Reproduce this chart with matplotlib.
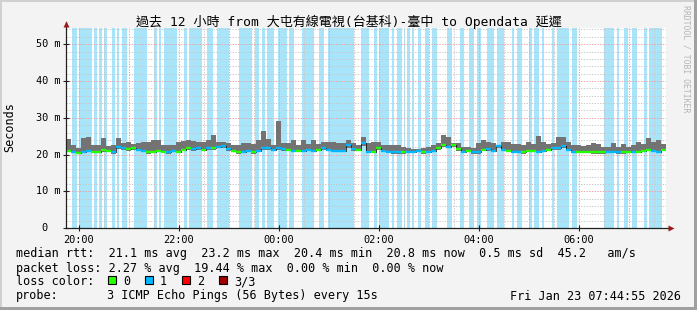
import numpy as np
import matplotlib
matplotlib.use("Agg")
from matplotlib import pyplot as plt
from matplotlib.patches import Rectangle
from matplotlib.transforms import blended_transform_factory

# Chart data
title = "過去 12 小時 from 大屯有線電視(台基科)-臺中 to Opendata 延遲"
start_hour = 19 + 44 / 60 + 55 / 3600   # graph starts 19:44:55
span_min = 720
step_min = 6

# median rtt per 6 minute step (ms)
median_ms = [21.1, 20.8, 20.4, 20.8, 21.0, 20.8, 20.8, 21.3, 21.0, 20.6,
             22.2, 21.7, 21.5, 21.7, 21.3, 21.1, 20.6, 20.8, 21.1, 20.8,
             20.6, 21.0, 20.8, 21.3, 21.7, 21.5, 21.7, 21.3, 21.7, 21.7,
             22.2, 22.4, 21.5, 21.1, 20.6, 20.8, 21.1, 20.6, 21.1, 21.7,
             21.7, 21.3, 21.7, 21.5, 21.3, 21.1, 21.0, 21.1, 21.3, 21.1,
             21.3, 21.7, 21.3, 21.0, 21.1, 21.1, 22.6, 21.5, 21.3, 23.2,
             20.8, 20.8, 21.7, 21.1, 20.8, 20.6, 20.6, 20.6, 20.8, 20.8,
             21.1, 20.6, 20.8, 21.1, 21.7, 22.6, 22.2, 22.6, 21.5, 20.8,
             21.1, 20.6, 20.6, 21.3, 21.5, 21.1, 22.4, 21.3, 21.1, 20.8,
             20.8, 20.6, 21.1, 21.1, 20.8, 21.1, 21.3, 21.7, 21.7, 22.4,
             21.3, 20.8, 20.8, 20.8, 20.8, 20.6, 20.6, 20.6, 20.8, 20.8,
             20.6, 20.6, 20.8, 20.8, 20.8, 21.1, 21.3, 21.1, 20.8, 21.3]

# smoke (min / max ping) per step (ms)
smoke_lo_ms = [20.6, 20.4, 20.1, 20.5, 20.6, 20.4, 20.5, 20.8, 20.6, 20.3,
               21.5, 21.2, 21.0, 21.2, 20.9, 20.7, 20.3, 20.5, 20.7, 20.4,
               20.3, 20.6, 20.4, 20.9, 21.2, 21.0, 21.3, 20.9, 21.2, 21.3,
               21.7, 21.9, 21.1, 20.7, 20.3, 20.5, 20.7, 20.3, 20.7, 21.2,
               21.3, 20.9, 21.3, 21.1, 20.9, 20.7, 20.6, 20.7, 20.9, 20.7,
               20.9, 21.3, 20.9, 20.6, 20.7, 20.7, 21.9, 21.1, 20.9, 22.3,
               20.5, 20.5, 21.3, 20.7, 20.5, 20.3, 20.3, 20.3, 20.5, 20.4,
               20.7, 20.3, 20.5, 20.7, 21.3, 22.0, 21.7, 22.0, 21.1, 20.5,
               20.7, 20.3, 20.3, 20.9, 21.1, 20.7, 21.8, 20.9, 20.7, 20.5,
               20.5, 20.3, 20.7, 20.7, 20.5, 20.7, 20.9, 21.3, 21.2, 21.8,
               20.9, 20.5, 20.5, 20.5, 20.5, 20.3, 20.3, 20.3, 20.5, 20.5,
               20.3, 20.3, 20.5, 20.5, 20.5, 20.7, 20.9, 20.7, 20.5, 20.9]
smoke_hi_ms = [24.2, 22.6, 21.7, 24.5, 24.9, 22.6, 22.6, 24.5, 22.4, 22.6,
               24.5, 23.1, 23.5, 22.9, 23.1, 23.3, 23.5, 24.0, 24.0, 22.6,
               22.6, 22.6, 23.5, 23.8, 24.0, 23.8, 23.3, 23.5, 24.0, 25.4,
               23.5, 23.5, 23.1, 22.6, 22.6, 23.1, 23.1, 22.9, 24.0, 26.3,
               24.2, 22.6, 29.2, 23.1, 23.1, 24.0, 22.6, 24.0, 22.9, 24.0,
               22.9, 23.5, 23.5, 23.5, 23.1, 23.1, 24.0, 23.1, 22.6, 24.9,
               23.1, 23.5, 23.3, 22.6, 22.6, 22.6, 22.6, 22.0, 21.7, 21.5,
               21.5, 21.7, 22.0, 22.6, 23.1, 25.4, 24.9, 23.1, 23.1, 22.2,
               22.2, 21.7, 23.1, 24.1, 23.5, 23.1, 22.6, 23.5, 23.5, 22.9,
               22.9, 22.6, 23.5, 22.9, 25.1, 23.3, 22.9, 23.1, 24.8, 24.7,
               23.3, 22.6, 22.6, 22.4, 22.6, 23.1, 22.9, 22.2, 22.0, 23.1,
               22.2, 22.9, 22.2, 22.6, 23.3, 22.9, 24.5, 23.5, 24.0, 22.9]

# periods with 1/3 packet loss, minutes after graph start
loss_start_min = [7.2, 16, 33.6, 39.6, 45.6, 55.2, 61.2, 67.2, 81.2, 105.2,
                  111.2, 117.2, 141.2, 147.2, 169.2, 181.2, 207.2, 226.4, 235.2, 241.2,
                  254, 267.2, 283.2, 303.2, 314.4, 354.4, 369.2, 375.2, 391.2, 396.8,
                  405.2, 409.2, 415.2, 422.4, 431.2, 439.2, 457.6, 472.8, 483.2, 493.2,
                  505.2, 517.2, 535.2, 541.2, 555.2, 561.6, 571.2, 583.2, 589.2, 607.2,
                  645.2, 661.2, 669.2, 679.2, 693.2, 700]
loss_end_min = [13.2, 31.2, 37.2, 43.2, 49.2, 58.4, 64, 73.2, 97.2, 109.2,
                114.4, 133.2, 145.2, 163.2, 176.4, 195.6, 223.2, 231.2, 238.4, 250,
                265.2, 273.2, 298, 309.2, 345.2, 363.2, 373.2, 387.2, 393.6, 403.2,
                406.8, 413.2, 417.6, 425.6, 435.2, 445.2, 463.2, 477.6, 489.2, 498,
                514, 525.2, 538, 547.2, 559.2, 568, 573.6, 586, 604, 613.2,
                657.2, 663.2, 674, 685.2, 697.2, 715.2]

tick_hours = [20, 22, 24, 26, 28, 30]
tick_labels = ["20:00", "22:00", "00:00", "02:00", "04:00", "06:00"]
y_ticks = [0, 10, 20, 30, 40, 50]
y_max = 54.3

loss_colors = ["#26ff00", "#00b8ff", "#ff0000", "#a10000"]
loss_names = ["0", "1", "2", "3/3"]

rtt_line = "median rtt:  21.1 ms avg  23.2 ms max  20.4 ms min  20.8 ms now  0.5 ms sd  45.2   am/s"
loss_line = "packet loss: 2.27 % avg  19.44 % max  0.00 % min  0.00 % now"
probe_text = "3 ICMP Echo Pings (56 Bytes) every 15s"
stamp_text = "Fri Jan 23 07:44:55 2026"

MONO = "DejaVu Sans Mono"
LEG_FS = 8.5
W, H = 697, 310


def fx(px):
    return px / W


def fy(py):
    return 1 - py / H


fig = plt.figure(figsize=(W / 100, H / 100), dpi=100)
fig.patch.set_facecolor("#f3f3f3")

ax = fig.add_axes([fx(66), fy(228.3), 600 / W, 200 / H])
ax.set_facecolor("white")
ax.set_xlim(0, span_min)
ax.set_ylim(0, y_max)
for sp in ax.spines.values():
    sp.set_visible(False)

# loss background bars
for a, b in zip(loss_start_min, loss_end_min):
    ax.axvspan(a, b, color="#a8e4fa", lw=0, zorder=1)

# grid: red dotted on the hour / every 10 ms, grey dotted in between
first_half = (np.ceil(start_hour * 2) / 2 - start_hour) * 60
k = 0
while first_half + 30 * k < span_min:
    xm = first_half + 30 * k
    on_hour = (k % 2 == 0) == (np.ceil(start_hour * 2) % 2 == 0)
    ax.axvline(xm, color="#f2a0a0" if on_hour else "#cacaca", lw=0.7,
               ls=(0, (1.4, 1.4)), zorder=1.5)
    k += 1
for v in range(2, int(y_max) + 1, 2):
    ax.axhline(v, color="#f2a0a0" if v % 10 == 0 else "#cacaca", lw=0.7,
               ls=(0, (1.4, 1.4)), zorder=1.5)

# smoke and median
n = len(median_ms)
edges = np.arange(n + 1) * step_min
ax.fill_between(edges, smoke_lo_ms + [smoke_lo_ms[-1]], smoke_hi_ms + [smoke_hi_ms[-1]],
                step="post", color="#737373", lw=0, zorder=2)
ax.step(edges, median_ms + [median_ms[-1]], where="post", color="black", lw=0.5, zorder=3)
mids = edges[:-1] + step_min / 2
lost = [any(a <= m <= b for a, b in zip(loss_start_min, loss_end_min)) for m in mids]
cols = [loss_colors[1] if l else loss_colors[0] for l in lost]
ax.hlines(median_ms, edges[:-1], edges[1:], colors=cols, lw=1.7, zorder=4)

# axes with arrows
ax.plot([0, 0], [0, 1.03], transform=ax.transAxes, color="#202020", lw=0.9,
        clip_on=False, zorder=5)
ax.plot([0, 1.008], [0, 0], transform=ax.transAxes, color="#202020", lw=0.9,
        clip_on=False, zorder=5)
ax.plot([0], [1.022], transform=ax.transAxes, marker="^", ms=4.5, color="#9e1a1a",
        mec="none", clip_on=False, zorder=6)
ax.plot([1.008], [0], transform=ax.transAxes, marker=">", ms=4.5, color="#9e1a1a",
        mec="none", clip_on=False, zorder=6)

ax.set_xticks([(h - start_hour) * 60 for h in tick_hours])
ax.set_xticklabels(tick_labels, family=MONO, fontsize=7.4)
ax.set_yticks(y_ticks)
ax.set_yticklabels([])
ax.tick_params(axis="x", length=4, width=0.8, direction="inout", pad=2.5, color="#202020")
ax.tick_params(axis="y", length=4, width=0.8, direction="inout", color="#202020")

# y tick labels, rrdtool style (the "0" is aligned with the number column)
ytr = blended_transform_factory(fig.transFigure, ax.transData)
for v in y_ticks:
    if v == 0:
        ax.text(fx(60 - 2 * 6.2), v, "0", transform=ytr, ha="right", va="center",
                family=MONO, fontsize=7.4)
    else:
        ax.text(fx(60), v, f"{v} m", transform=ytr, ha="right", va="center",
                family=MONO, fontsize=7.4)

fig.text(fx(10), fy(127), "Seconds", rotation=90, ha="center", va="center",
         family=MONO, fontsize=LEG_FS)
fig.text(0.5, fy(22), title, ha="center", va="center", fontsize=9.4,
         family=[MONO, "Noto Sans CJK TC"])
fig.text(fx(686), fy(5), "RRDTOOL / TOBI OETIKER", rotation=270, ha="center",
         va="top", family=MONO, fontsize=5.9, color="#b5b5b5")

# legend
row_y = [254, 268.3, 281.7, 296]
fig.text(fx(16), fy(row_y[0]), rtt_line, ha="left", va="center", family=MONO, fontsize=LEG_FS)
fig.text(fx(16), fy(row_y[1]), loss_line, ha="left", va="center", family=MONO, fontsize=LEG_FS)
fig.text(fx(16), fy(row_y[2]), "loss color:", ha="left", va="center", family=MONO, fontsize=LEG_FS)
box_x = [108.3, 145, 182.3, 219.3]
for bx, c, name in zip(box_x, loss_colors, loss_names):
    fig.add_artist(Rectangle((fx(bx), fy(284)), 8 / W, 8 / H, transform=fig.transFigure,
                             facecolor=c, edgecolor="black", lw=0.8))
    fig.text(fx(bx + 15), fy(row_y[2]), name, ha="left", va="center", family=MONO, fontsize=LEG_FS)
fig.text(fx(16), fy(row_y[3]), "probe:", ha="left", va="center", family=MONO, fontsize=LEG_FS)
fig.text(fx(107.3), fy(row_y[3]), probe_text, ha="left", va="center", family=MONO, fontsize=LEG_FS)
fig.text(fx(681), fy(row_y[3]), stamp_text, ha="right", va="center", family=MONO, fontsize=LEG_FS)

# 3d-ish frame around the image
fig.add_artist(Rectangle((0, fy(2)), 1, 2 / H, transform=fig.transFigure, color="#d0d0d0", lw=0))
fig.add_artist(Rectangle((0, 0), 2 / W, 1, transform=fig.transFigure, color="#d0d0d0", lw=0))
fig.add_artist(Rectangle((0, 0), 1, 3 / H, transform=fig.transFigure, color="#a0a0a0", lw=0))
fig.add_artist(Rectangle((1 - 3 / W, 0), 3 / W, 1, transform=fig.transFigure, color="#a0a0a0", lw=0))

fig.savefig("out.png", dpi=100, facecolor=fig.get_facecolor())
